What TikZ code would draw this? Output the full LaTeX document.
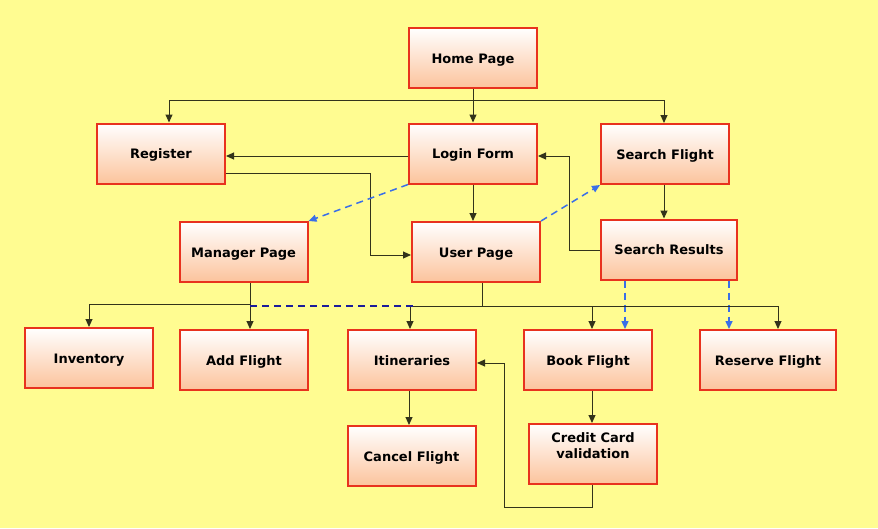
\documentclass[tikz,border=0pt]{standalone}
\usepackage{fontspec}
\setmainfont{DejaVu Sans}
\usetikzlibrary{arrows.meta,calc}
\definecolor{bg}{HTML}{FFFC91}
\definecolor{boxred}{HTML}{E8321E}
\definecolor{peach}{HTML}{FCC39C}
\definecolor{linec}{HTML}{33331A}
\definecolor{dashblue}{HTML}{3A6FE8}
\definecolor{navyc}{HTML}{1C1C9A}
\begin{document}
\begin{tikzpicture}[x=1pt,y=-1pt,
  box/.style={draw=boxred, line width=2pt, top color=white, bottom color=peach,
    minimum width=128pt, minimum height=60pt, inner sep=0pt, align=center,
    text height=11pt, text depth=1pt,
    font=\fontsize{13}{16}\selectfont\bfseries},
  boxtext/.style={inner sep=0pt, align=center, font=\fontsize{13}{16}\selectfont\bfseries},
  conn/.style={draw=linec, line width=1pt},
  arr/.style={conn, -{Triangle[length=8pt,width=7pt]}},
  bluedash/.style={draw=dashblue, line width=1.5pt, dash pattern=on 7pt off 5pt,
    -{Triangle[length=8pt,width=7pt]}},
  navydash/.style={draw=navyc, line width=2pt, dash pattern=on 7pt off 5pt}]
\fill[bg] (0,0) rectangle (878,528);
\useasboundingbox (0,0) rectangle (878,528);

\node[box] (home) at (473,58) {Home Page};
\node[box] (reg) at (161,153.5) {Register};
\node[box] (login) at (473,153.5) {Login Form};
\node[box] (search) at (665,154) {Search Flight};
\node[box, minimum width=136pt] (results) at (669,249.5) {Search Results};
\node[box] (manager) at (243.5,252) {Manager Page};
\node[box] (user) at (476,252) {User Page};
\node[box] (inv) at (89,358) {Inventory};
\node[box] (add) at (244,360) {Add Flight};
\node[box] (itin) at (412,360) {Itineraries};
\node[box] (book) at (588,360) {Book Flight};
\node[box, minimum width=136pt] (reserve) at (768,360) {Reserve Flight};
\node[box] (cancel) at (411.5,456) {Cancel Flight};
\node[box] (cc) at (593,454) {};
\node[boxtext] (cctext) at (593,446) {Credit Card\\validation};

% Home page fan-out
\coordinate (hb) at (473,100);
\draw[conn] (home.south) -- (hb);
\draw[arr] (hb) -| (169,0 |- reg.north);
\draw[arr] (hb) -- (login.north);
\draw[arr] (hb) -| (664,0 |- search.north);

% Login -> Register
\draw[arr] (login.west |- 0,156) -- (reg.east |- 0,156);
% Register -> User page
\coordinate (rk) at (370,173);
\draw[arr] (reg.east |- rk) -- (rk) |- (user.west |- 0,255);
% Login -> User page
\draw[arr] (login.south) -- (login.south |- user.north);
% Search flight -> Search results
\draw[arr] (664,0 |- search.south) -- (664,0 |- results.north);
% Search results -> Login form
\coordinate (sk) at (569,156);
\draw[arr] (results.west |- 0,250) -| (sk) -- (login.east |- sk);

% dashed blue
\draw[bluedash] (login.south west) -- (manager.north east);
\draw[bluedash] (user.north east) -- (search.south west);
\draw[bluedash] (625,0 |- results.south) -- (625,0 |- book.north);
\draw[bluedash] (729,0 |- results.south) -- (729,0 |- reserve.north);

% Manager bus
\coordinate (mb) at (250,304);
\draw[conn] (250,0 |- manager.south) -- (mb);
\draw[arr] (mb) -| (inv.north);
\draw[arr] (mb) -- (250,0 |- add.north);

% User bus
\coordinate (ub) at (482,306);
\draw[conn] (482,0 |- user.south) -- (ub);
\draw[arr] (ub) -| (410,0 |- itin.north);
\draw[arr] (ub) -| (592,0 |- book.north);
\draw[arr] (ub) -| (778,0 |- reserve.north);

% navy dashed link
\coordinate (nd) at (417,305.5);
\draw[navydash] (250,305.5) -- (nd);

% lower arrows
\draw[arr] (409,0 |- itin.south) -- (409,0 |- cancel.north);
\draw[arr] (592,0 |- book.south) -- (592,0 |- cc.north);
\coordinate (cb) at (592,507);
\coordinate (cl) at (504,363);
\draw[arr] (592,0 |- cc.south) -- (cb) -| (cl) -- (itin.east |- cl);
\end{tikzpicture}
\end{document}
